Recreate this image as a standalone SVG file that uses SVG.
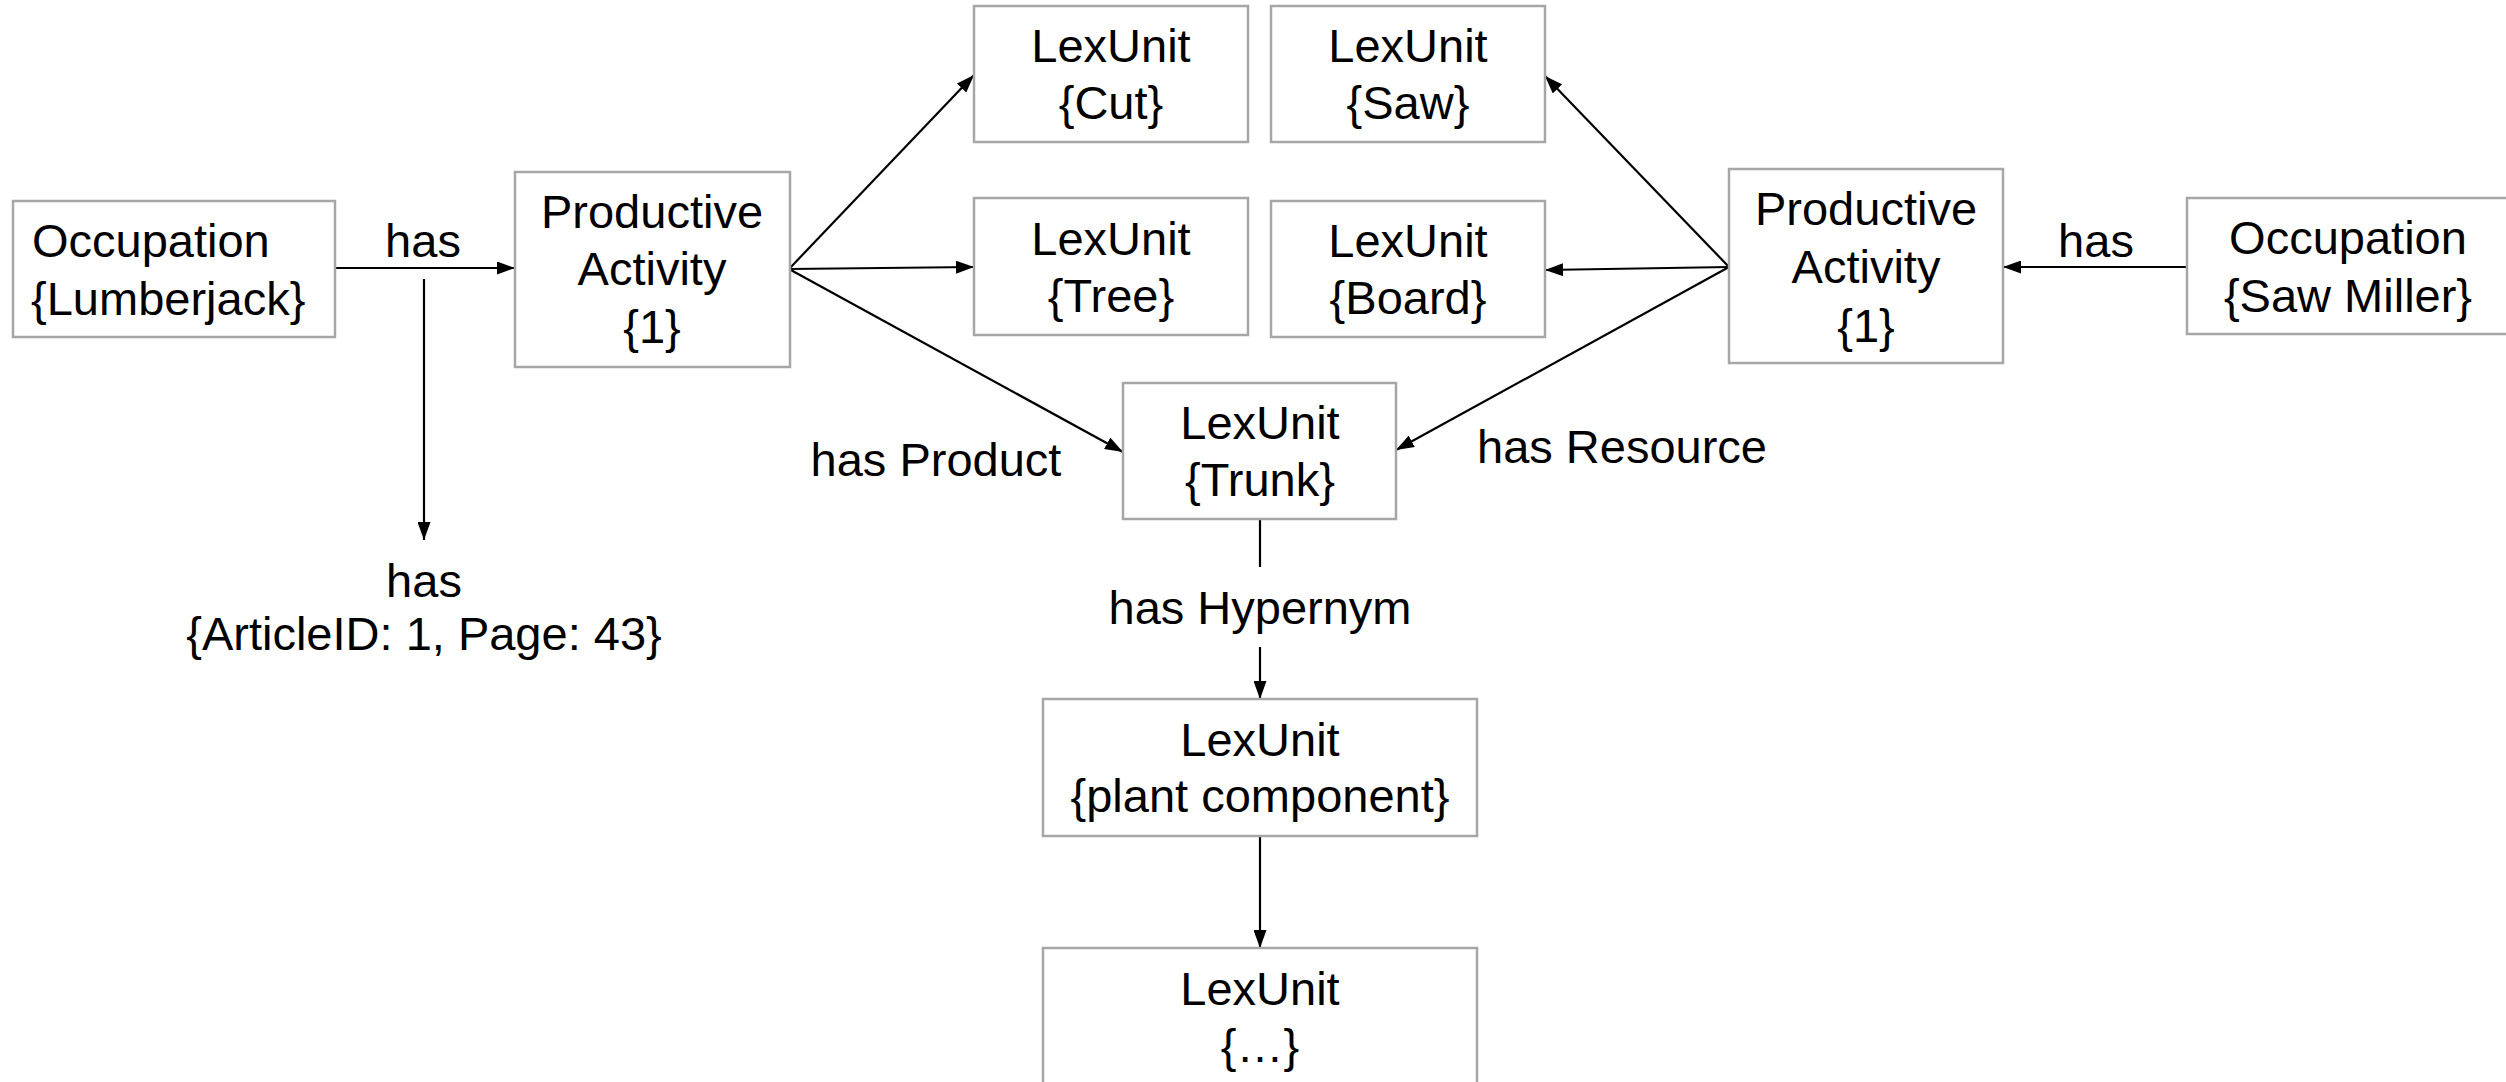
<svg xmlns="http://www.w3.org/2000/svg" width="2506" height="1082" viewBox="0 0 2506 1082">
<defs>
<style>
.box{fill:#ffffff;stroke:#a6a6a6;stroke-width:2.5}
.t{font-family:"Liberation Sans",Arial,sans-serif;font-size:47px;fill:#000000;text-anchor:middle}
.ts{text-anchor:start}
.c{stroke:#000000;stroke-width:2.2;fill:none}
.a{marker-end:url(#arr)}
</style>
<marker id="arr" markerUnits="userSpaceOnUse" markerWidth="19" markerHeight="13" refX="18" refY="6.5" orient="auto">
<path d="M0,0 L18,6.5 L0,13 z" fill="#000000"/>
</marker>
</defs>
<rect width="2506" height="1082" fill="#ffffff"/>
<g id="connectors">
<line class="c a" x1="335" y1="268" x2="515" y2="268"/>
<line class="c a" x1="424" y1="279" x2="424" y2="540"/>
<line class="c a" x1="789" y1="269" x2="974" y2="75"/>
<line class="c a" x1="789" y1="269" x2="974" y2="267"/>
<line class="c a" x1="789" y1="269" x2="1123" y2="452"/>
<line class="c a" x1="1729" y1="267" x2="1545" y2="76"/>
<line class="c a" x1="1729" y1="267" x2="1545" y2="270"/>
<line class="c a" x1="1729" y1="267" x2="1396" y2="450"/>
<line class="c a" x1="2187" y1="267" x2="2003" y2="267"/>
<line class="c" x1="1260" y1="519" x2="1260" y2="567"/>
<line class="c a" x1="1260" y1="647" x2="1260" y2="699"/>
<line class="c a" x1="1260" y1="836" x2="1260" y2="948"/>
<text class="t" x="423" y="257">has</text>
<text class="t" x="424" y="597">has</text>
<text class="t" x="424" y="650">{ArticleID: 1, Page: 43}</text>
<text class="t" x="936" y="476">has Product</text>
<text class="t ts" x="1477" y="463">has Resource</text>
<text class="t" x="2096" y="257">has</text>
<text class="t" x="1260" y="624">has Hypernym</text>
</g>
<g id="occ_lumberjack">
<rect class="box" x="13" y="201" width="322" height="136"/>
<text class="t ts" x="32" y="257">Occupation</text>
<text class="t ts" x="31" y="315">{Lumberjack}</text>
</g>
<g id="pa_left">
<rect class="box" x="515" y="172" width="275" height="195"/>
<text class="t" x="652" y="228">Productive</text>
<text class="t" x="652" y="285">Activity</text>
<text class="t" x="652" y="343">{1}</text>
</g>
<g id="lex_cut">
<rect class="box" x="974" y="6" width="274" height="136"/>
<text class="t" x="1111" y="62">LexUnit</text>
<text class="t" x="1111" y="119">{Cut}</text>
</g>
<g id="lex_saw">
<rect class="box" x="1271" y="6" width="274" height="136"/>
<text class="t" x="1408" y="62">LexUnit</text>
<text class="t" x="1408" y="119">{Saw}</text>
</g>
<g id="lex_tree">
<rect class="box" x="974" y="198" width="274" height="137"/>
<text class="t" x="1111" y="255">LexUnit</text>
<text class="t" x="1111" y="312">{Tree}</text>
</g>
<g id="lex_board">
<rect class="box" x="1271" y="201" width="274" height="136"/>
<text class="t" x="1408" y="257">LexUnit</text>
<text class="t" x="1408" y="314">{Board}</text>
</g>
<g id="pa_right">
<rect class="box" x="1729" y="169" width="274" height="194"/>
<text class="t" x="1866" y="225">Productive</text>
<text class="t" x="1866" y="283">Activity</text>
<text class="t" x="1866" y="342">{1}</text>
</g>
<g id="occ_sawmiller">
<rect class="box" x="2187" y="198" width="322" height="136"/>
<text class="t" x="2348" y="254">Occupation</text>
<text class="t" x="2348" y="312">{Saw Miller}</text>
</g>
<g id="lex_trunk">
<rect class="box" x="1123" y="383" width="273" height="136"/>
<text class="t" x="1260" y="439">LexUnit</text>
<text class="t" x="1260" y="496">{Trunk}</text>
</g>
<g id="lex_plant">
<rect class="box" x="1043" y="699" width="434" height="137"/>
<text class="t" x="1260" y="756">LexUnit</text>
<text class="t" x="1260" y="812">{plant component}</text>
</g>
<g id="lex_more">
<rect class="box" x="1043" y="948" width="434" height="145"/>
<text class="t" x="1260" y="1005">LexUnit</text>
<text class="t" x="1260" y="1062">{…}</text>
</g>
</svg>
